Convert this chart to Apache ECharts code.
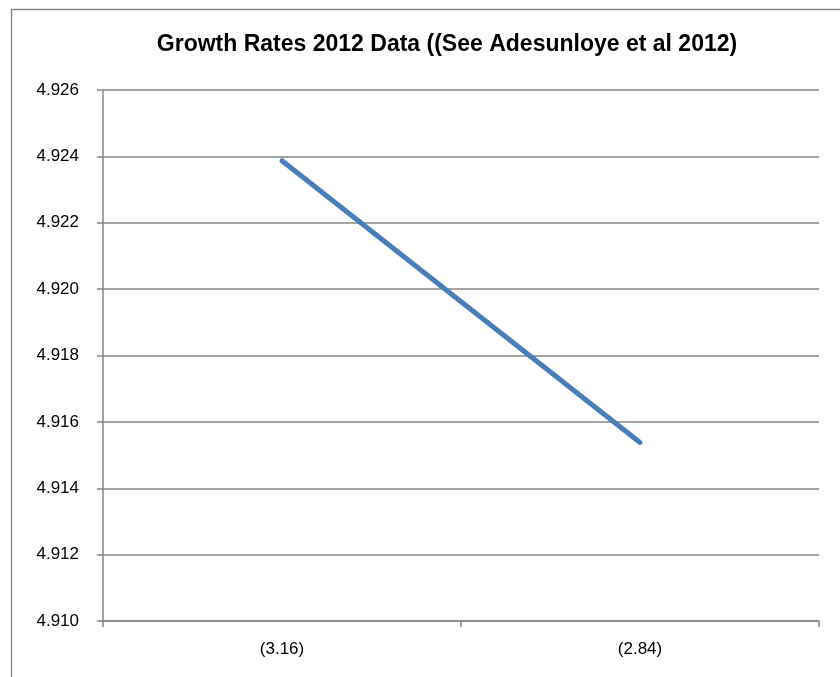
<!DOCTYPE html>
<html>
<head>
<meta charset="utf-8">
<script src="https://cdn.jsdelivr.net/npm/echarts@6/dist/echarts.min.js"></script>
<style>
html,body{margin:0;padding:0;background:#fff;}
#chart{width:840px;height:677px;}
</style>
</head>
<body>
<div id="chart"></div>
<script>
const titleText = 'Growth Rates 2012 Data ((See Adesunloye et al 2012)';
const categories = ['(3.16)', '(2.84)'];
const growthValues = [4.92387, 4.91538];
const yMin = 4.910;
const yMax = 4.926;
const yStep = 0.002;

const chart = echarts.init(document.getElementById('chart'));
const font = '"Liberation Sans", Arial, sans-serif';
chart.setOption({
  animation: false,
  backgroundColor: '#fff',
  title: {
    text: titleText,
    left: 442, top: 28, textAlign: 'center',
    textStyle: { fontFamily: font, fontSize: 23, fontWeight: 'bold', color: '#000' }
  },
  graphic: [{
    type: 'rect', left: 9, top: 7, z: -1,
    shape: { width: 900, height: 800 },
    style: { fill: 'none', stroke: '#868686', lineWidth: 1.3 }
  }],
  grid: { left: 103, right: 21, top: 90, bottom: 56, containLabel: false },
  xAxis: {
    type: 'category', data: categories, boundaryGap: true,
    axisLine: { lineStyle: { color: '#868686', width: 1.5 } },
    axisTick: { show: true, length: 6, alignWithLabel: false, lineStyle: { color: '#868686', width: 1.5 } },
    axisLabel: { fontFamily: font, fontSize: 17, color: '#000', margin: 20 }
  },
  yAxis: {
    type: 'value', min: yMin, max: yMax, interval: yStep,
    axisLine: { show: true, lineStyle: { color: '#868686', width: 1.5 } },
    axisTick: { show: true, inside: false, length: 6, lineStyle: { color: '#868686', width: 1.5 } },
    splitLine: { lineStyle: { color: '#868686', width: 1.5 } },
    axisLabel: { fontFamily: font, fontSize: 17, color: '#000', margin: 24, formatter: v => v.toFixed(3) }
  },
  series: [{
    type: 'line', data: growthValues, symbol: 'none',
    lineStyle: { color: '#4a7ebb', width: 5, cap: 'round' }
  }]
});
</script>
</body>
</html>
